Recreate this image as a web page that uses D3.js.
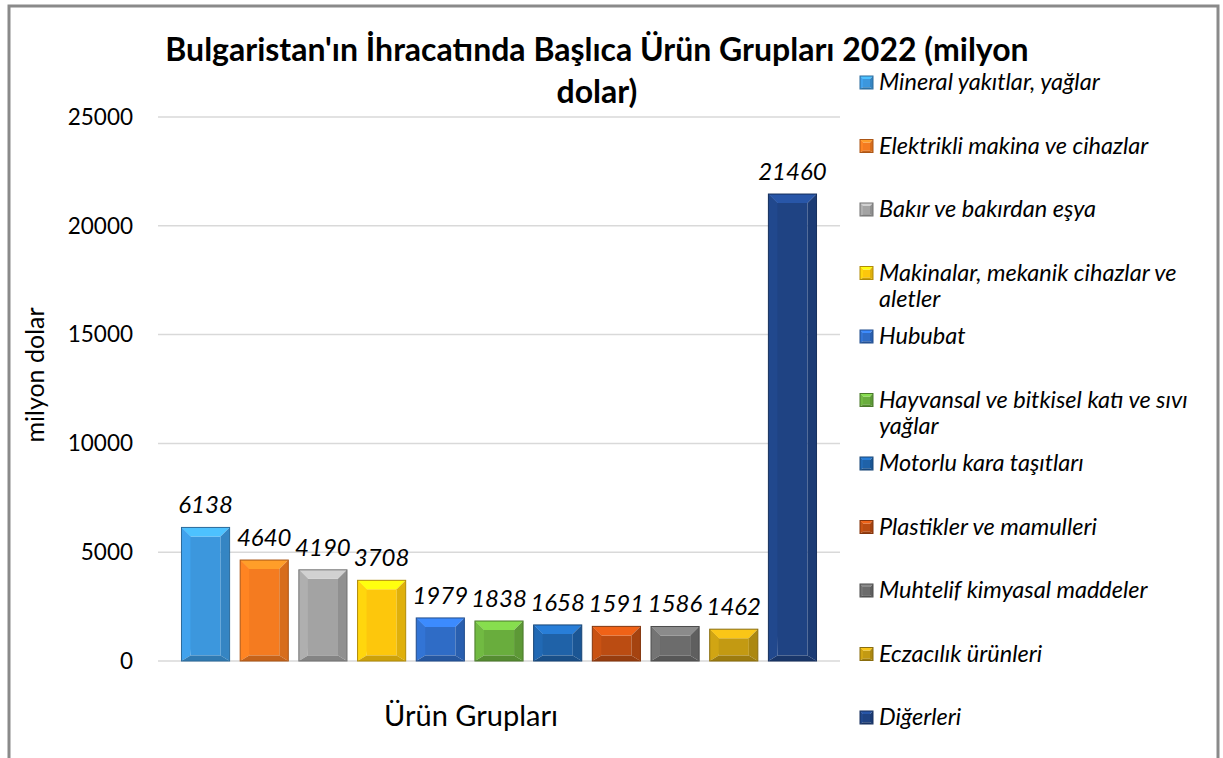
<!DOCTYPE html>
<html>
<head>
<meta charset="utf-8">
<script src="https://cdn.jsdelivr.net/npm/d3@7"></script>
<style>
  body { margin: 0; background: #fff; }
  text { font-family: Lato, "Open Sans", sans-serif; }
</style>
</head>
<body>
<svg id="canvas" width="1223" height="758"></svg>
<script>
// data
let categories = [
  'Mineral yakıtlar, yağlar',
  'Elektrikli makina ve cihazlar',
  'Bakır ve bakırdan eşya',
  'Makinalar, mekanik cihazlar ve aletler',
  'Hububat',
  'Hayvansal ve bitkisel katı ve sıvı yağlar',
  'Motorlu kara taşıtları',
  'Plastikler ve mamulleri',
  'Muhtelif kimyasal maddeler',
  'Eczacılık ürünleri',
  'Diğerleri'
]
let values = [6138, 4640, 4190, 3708, 1979, 1838, 1658, 1591, 1586, 1462, 21460]
let colors = ['#3c97dd', '#f47b20', '#a3a3a3', '#fdc70c', '#2f6cc6', '#69ad3d',
              '#1f62a8', '#bb4c12', '#6c6c6c', '#c39a12', '#1f4383']
let yTicks = [0, 5000, 10000, 15000, 20000, 25000]
// legend labels broken like the original
let legendLines = [
  ['Mineral yakıtlar, yağlar'],
  ['Elektrikli makina ve cihazlar'],
  ['Bakır ve bakırdan eşya'],
  ['Makinalar, mekanik cihazlar ve', 'aletler'],
  ['Hububat'],
  ['Hayvansal ve bitkisel katı ve sıvı', 'yağlar'],
  ['Motorlu kara taşıtları'],
  ['Plastikler ve mamulleri'],
  ['Muhtelif kimyasal maddeler'],
  ['Eczacılık ürünleri'],
  ['Diğerleri']
]

let canvas = d3.select('#canvas')

// outer frame
canvas.append('rect')
  .attr('x', 9).attr('y', 6)
  .attr('width', 1209).attr('height', 820)
  .attr('fill', 'none')
  .attr('stroke', '#8a8a8a')
  .attr('stroke-width', 3)

let xScale = d3.scaleBand()
  .domain(categories)
  .range([158, 840])
  .paddingInner(0.18)
  .paddingOuter(0.4)

let yScale = d3.scaleLinear()
  .domain([0, 25000])
  .range([661, 117])

// gridlines
canvas.append('g')
  .selectAll('line')
  .data(yTicks)
  .enter()
  .append('line')
  .attr('x1', 158).attr('x2', 840)
  .attr('y1', d => yScale(d)).attr('y2', d => yScale(d))
  .attr('stroke', '#d9d9d9')
  .attr('stroke-width', 1.5)

// y axis labels
let yAxis = d3.axisLeft(yScale).tickValues(yTicks).tickFormat(d3.format('d')).tickSize(0).tickPadding(0)
canvas.append('g')
  .attr('transform', 'translate(133,0)')
  .call(yAxis)
  .call(g => g.select('.domain').remove())
  .selectAll('text')
  .attr('font-size', 22.5)
  .attr('font-family', 'Lato, sans-serif')
  .attr('fill', '#000')

// bevelled box drawn as five pieces
let bevel = (g, x, y, w, h, color, b) => {
  let c = d3.color(color)
  let x2 = x + w, y2 = y + h
  let pieces = [
    {pts: [[x, y], [x + b, y + b], [x2 - b, y + b], [x2 - b, y2 - b * 0.6], [x + b, y2 - b * 0.6]], fill: c.formatHex()},
    {pts: [[x, y], [x2, y], [x2 - b, y + b], [x + b, y + b]], fill: c.brighter(0.7).formatHex()},
    {pts: [[x, y], [x + b, y + b], [x + b, y2 - b * 0.6], [x, y2]], fill: c.brighter(0.2).formatHex()},
    {pts: [[x2, y], [x2, y2], [x2 - b, y2 - b * 0.6], [x2 - b, y + b]], fill: c.darker(0.35).formatHex()},
    {pts: [[x, y2], [x + b, y2 - b * 0.6], [x2 - b, y2 - b * 0.6], [x2, y2]], fill: c.darker(0.6).formatHex()}
  ]
  g.selectAll(null)
    .data(pieces)
    .enter()
    .append('polygon')
    .attr('points', p => p.pts.map(q => q.join(',')).join(' '))
    .attr('fill', p => p.fill)
  g.append('rect')
    .attr('x', x).attr('y', y).attr('width', w).attr('height', h)
    .attr('fill', 'none')
    .attr('stroke', c.darker(1).formatHex())
    .attr('stroke-width', 1)
}

// bars
let bars = canvas.append('g')
categories.forEach((cat, i) => {
  let g = bars.append('g')
  let x = xScale(cat)
  let y = yScale(values[i])
  bevel(g, x, y, xScale.bandwidth(), yScale(0) - y, colors[i], 9)
})

// value labels
canvas.append('g')
  .selectAll('text')
  .data(values)
  .enter()
  .append('text')
  .attr('x', (d, i) => xScale(categories[i]) + xScale.bandwidth() / 2)
  .attr('y', d => yScale(d) - 14)
  .attr('text-anchor', 'middle')
  .attr('font-size', 24)
  .attr('font-style', 'italic')
  .text(d => d)

// title
canvas.append('text')
  .attr('x', 597).attr('y', 61)
  .attr('text-anchor', 'middle')
  .attr('font-size', 32)
  .attr('font-weight', 'bold')
  .text("Bulgaristan'ın İhracatında Başlıca Ürün Grupları 2022 (milyon")
canvas.append('text')
  .attr('x', 597).attr('y', 103)
  .attr('text-anchor', 'middle')
  .attr('font-size', 32)
  .attr('font-weight', 'bold')
  .text('dolar)')

// axis titles
canvas.append('text')
  .attr('transform', 'translate(44,375) rotate(-90)')
  .attr('text-anchor', 'middle')
  .attr('font-size', 25)
  .text('milyon dolar')

canvas.append('text')
  .attr('x', 471).attr('y', 726)
  .attr('text-anchor', 'middle')
  .attr('font-size', 29)
  .text('Ürün Grupları')

// legend
let legend = canvas.append('g')
legendLines.forEach((lines, i) => {
  let cy = 82 + i * 63.5
  let g = legend.append('g')
  bevel(g, 860, cy - 6, 13, 13, colors[i], 3)
  g.append('text')
    .attr('x', 879).attr('y', cy + 8)
    .attr('font-size', 23.5)
    .attr('font-style', 'italic')
    .selectAll('tspan')
    .data(lines)
    .enter()
    .append('tspan')
    .attr('x', 879)
    .attr('dy', (d, j) => j === 0 ? 0 : 26)
    .text(d => d)
})
</script>
</body>
</html>
